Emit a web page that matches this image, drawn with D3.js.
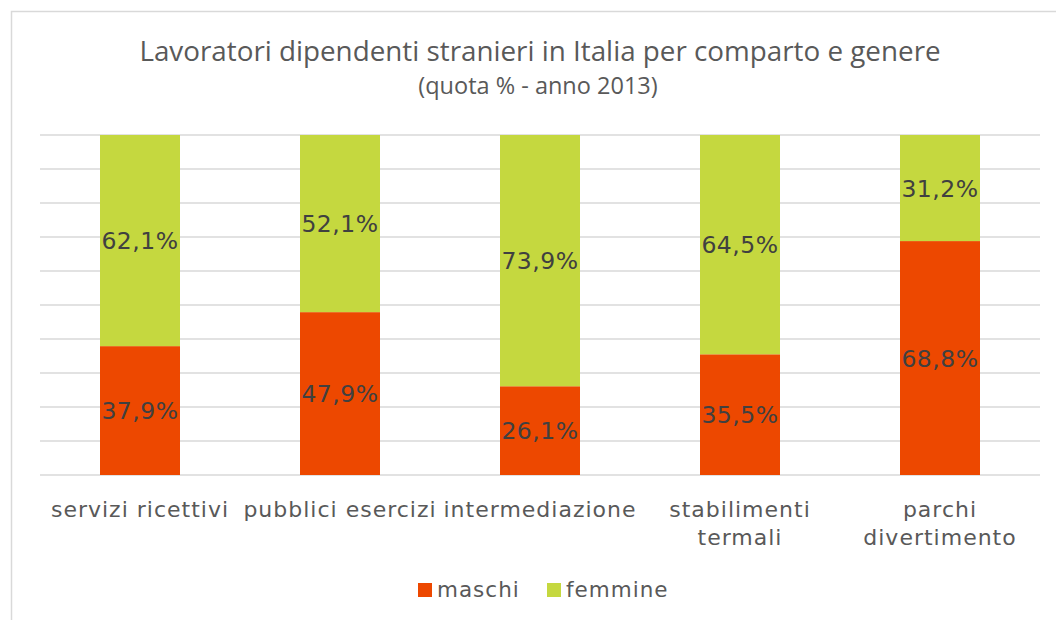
<!DOCTYPE html>
<html>
<head>
<meta charset="utf-8">
<script src="https://cdn.jsdelivr.net/npm/d3@7"></script>
<style>
  body { margin: 0; background: #fff; }
  svg { display: block; }
</style>
</head>
<body>
<div id="chart"></div>
<script>
// ********** DATA **********
const categories = [
	["servizi ricettivi"],
	["pubblici esercizi"],
	["intermediazione"],
	["stabilimenti", "termali"],
	["parchi", "divertimento"]
];
const maschi = [37.9, 47.9, 26.1, 35.5, 68.8];
const femmine = [62.1, 52.1, 73.9, 64.5, 31.2];
const seriesNames = ["maschi", "femmine"];
const seriesColors = ["#ED4800", "#C5D83F"];
const yTicks = [0, 10, 20, 30, 40, 50, 60, 70, 80, 90, 100];

const width = 1056, height = 620;
const margin = { top: 135, right: 16, bottom: 145, left: 40 };

const svg = d3.select("#chart")
	.append("svg")
	.attr("width", width)
	.attr("height", height);

// chart border
svg.append("rect")
	.attr("x", 11.5).attr("y", 11.5)
	.attr("width", width + 20).attr("height", height + 20)
	.style("fill", "none")
	.style("stroke", "#D9D9D9")
	.style("stroke-width", 1.5);

const x = d3.scaleBand()
	.domain(d3.range(categories.length))
	.range([margin.left, width - margin.right])
	.paddingInner(0.6)
	.paddingOuter(0.3);

const y = d3.scaleLinear()
	.domain([0, 100])
	.range([height - margin.bottom, margin.top]);

// gridlines
svg.selectAll("line.grid")
	.data(yTicks)
	.enter()
	.append("line")
	.attr("class", "grid")
	.attr("x1", margin.left)
	.attr("x2", width - margin.right)
	.attr("y1", d => y(d))
	.attr("y2", d => y(d))
	.style("stroke", "#D9D9D9")
	.style("stroke-width", 1.5);

// stacked bars
const rows = categories.map((c, i) => ({ i, maschi: maschi[i], femmine: femmine[i] }));
const stacked = d3.stack().keys(seriesNames)(rows);

const layers = svg.selectAll("g.layer")
	.data(stacked)
	.enter()
	.append("g")
	.attr("class", "layer")
	.style("fill", (d, i) => seriesColors[i]);

layers.selectAll("rect")
	.data(d => d)
	.enter()
	.append("rect")
	.attr("x", d => x(d.data.i))
	.attr("width", x.bandwidth())
	.attr("y", d => y(d[1]))
	.attr("height", d => y(d[0]) - y(d[1]));

layers.selectAll("text")
	.data(d => d)
	.enter()
	.append("text")
	.attr("x", d => x(d.data.i) + x.bandwidth() / 2)
	.attr("y", d => (y(d[0]) + y(d[1])) / 2)
	.attr("dy", "0.36em")
	.attr("text-anchor", "middle")
	.style("font-family", "'DejaVu Sans', Verdana, sans-serif")
	.style("font-size", "23.5px")
	.style("letter-spacing", "0.5px")
	.style("fill", "#404040")
	.text(d => d3.format(".1f")(d[1] - d[0]).replace(".", ",") + "%");

// category labels
const catLabels = svg.selectAll("text.cat")
	.data(categories)
	.enter()
	.append("text")
	.attr("class", "cat")
	.attr("text-anchor", "middle")
	.attr("x", (d, i) => x(i) + x.bandwidth() / 2)
	.attr("y", 517)
	.style("font-family", "'DejaVu Sans', Verdana, sans-serif")
	.style("font-size", "22px")
	.style("letter-spacing", "1px")
	.style("fill", "#595959");

catLabels.selectAll("tspan")
	.data(d => d)
	.enter()
	.append("tspan")
	.attr("x", function() { return d3.select(this.parentNode).attr("x"); })
	.attr("dy", (d, i) => i === 0 ? 0 : 28)
	.text(d => d);

// title
svg.append("text")
	.attr("x", 540)
	.attr("y", 61)
	.attr("text-anchor", "middle")
	.style("font-family", "'Open Sans', sans-serif")
	.style("font-size", "27.8px")
	.style("fill", "#595959")
	.text("Lavoratori dipendenti stranieri in Italia per comparto e genere");

svg.append("text")
	.attr("x", 538)
	.attr("y", 94)
	.attr("text-anchor", "middle")
	.style("font-family", "'Open Sans', sans-serif")
	.style("font-size", "23.5px")
	.style("fill", "#595959")
	.text("(quota % - anno 2013)");

// legend
const legendX = [418, 547];
const legend = svg.selectAll("g.legend")
	.data(seriesNames)
	.enter()
	.append("g")
	.attr("class", "legend")
	.attr("transform", (d, i) => `translate(${legendX[i]},583)`);

legend.append("rect")
	.attr("width", 14)
	.attr("height", 14)
	.style("fill", (d, i) => seriesColors[i]);

legend.append("text")
	.attr("x", 19)
	.attr("y", 14)
	.style("font-family", "'DejaVu Sans', Verdana, sans-serif")
	.style("font-size", "21.5px")
	.style("letter-spacing", "1px")
	.style("fill", "#595959")
	.text(d => d);
</script>
</body>
</html>
